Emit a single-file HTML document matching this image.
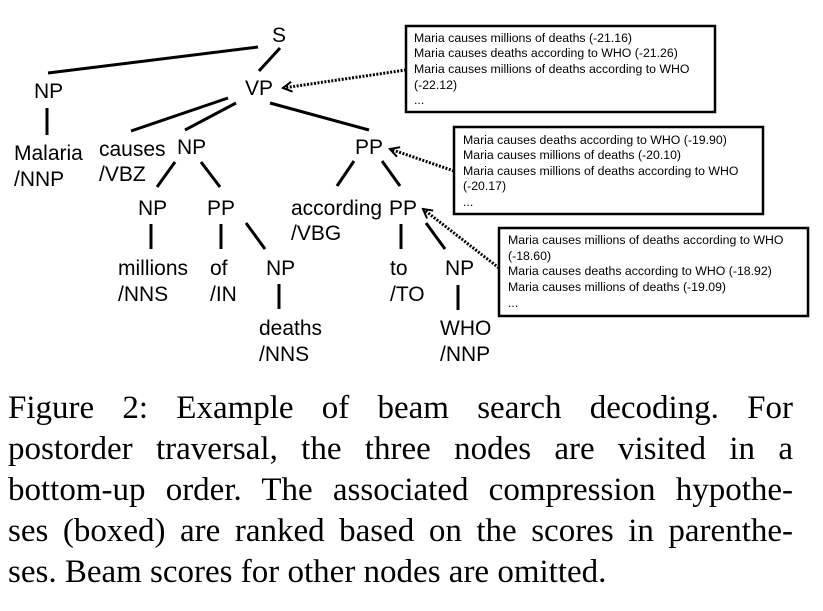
<!DOCTYPE html>
<html><head><meta charset="utf-8"><style>
body{margin:0;background:#fff;width:823px;height:611px;overflow:hidden;position:relative}
svg{position:absolute;left:0;top:0}
.t{font-family:"Liberation Sans",sans-serif;font-size:21px;fill:#000}
.b{font-family:"Liberation Sans",sans-serif;font-size:12.3px;fill:#000}
.cap{position:absolute;left:8px;width:785px;font-family:"Liberation Serif",serif;font-size:33px;line-height:41px;color:#000}
.j{text-align:justify;text-align-last:justify;height:41px;white-space:nowrap}
</style></head><body>
<svg width="823" height="380">
<defs><marker id="ah" markerUnits="userSpaceOnUse" markerWidth="12" markerHeight="12" refX="10" refY="6" orient="auto"><path d="M1,1 L10,6 L1,11" fill="none" stroke="#000" stroke-width="2"/></marker></defs>
<g stroke="#000" stroke-width="3">
<line x1="258" y1="47" x2="48" y2="73"/><line x1="280" y1="48" x2="259" y2="71"/>
<line x1="47" y1="108" x2="47" y2="135"/>
<line x1="228" y1="98" x2="131" y2="131"/><line x1="236" y1="103" x2="185" y2="130"/><line x1="270" y1="103" x2="369" y2="130"/>
<line x1="175" y1="162" x2="157" y2="187"/><line x1="201" y1="162" x2="220" y2="187"/>
<line x1="354" y1="161" x2="337" y2="186"/><line x1="382" y1="161" x2="400" y2="186"/>
<line x1="151" y1="224" x2="151" y2="249"/><line x1="221" y1="224" x2="221" y2="249"/><line x1="246" y1="223" x2="265" y2="249"/>
<line x1="279" y1="284" x2="279" y2="309"/>
<line x1="401" y1="224" x2="401" y2="249"/><line x1="426" y1="223" x2="445" y2="249"/><line x1="458" y1="285" x2="458" y2="310"/>
</g>
<g class="t">
<text x="272" y="42">S</text>
<text x="34" y="98">NP</text><text x="245" y="95">VP</text>
<text x="14" y="160">Malaria</text><text x="14" y="186">/NNP</text>
<text x="99" y="156">causes</text><text x="99" y="181">/VBZ</text>
<text x="177" y="154">NP</text><text x="355" y="154">PP</text>
<text x="138" y="215">NP</text><text x="207" y="215">PP</text>
<text x="291" y="215">according</text><text x="291" y="240">/VBG</text><text x="389" y="215">PP</text>
<text x="118" y="275">millions</text><text x="118" y="301">/NNS</text>
<text x="210" y="275">of</text><text x="210" y="301">/IN</text>
<text x="266" y="275">NP</text>
<text x="259" y="335">deaths</text><text x="259" y="361">/NNS</text>
<text x="390" y="275">to</text><text x="390" y="301">/TO</text>
<text x="445" y="275">NP</text>
<text x="440" y="335">WHO</text><text x="440" y="361">/NNP</text>
</g>
<g stroke="#000" stroke-width="3" stroke-dasharray="2,1.5" fill="none">
<line x1="406" y1="70" x2="283" y2="88" marker-end="url(#ah)"/>
<line x1="454" y1="171" x2="390" y2="149" marker-end="url(#ah)"/>
<line x1="499" y1="268" x2="423" y2="209" marker-end="url(#ah)"/>
</g>
<g fill="none" stroke="#000" stroke-width="2.5">
<rect x="406" y="26" width="309" height="86"/><rect x="454" y="127" width="309" height="87"/><rect x="499" y="228" width="309" height="88"/>
</g>
<g class="b">
<text x="414" y="42">Maria causes millions of deaths (-21.16)</text>
<text x="414" y="57">Maria causes deaths according to WHO (-21.26)</text>
<text x="414" y="73">Maria causes millions of deaths according to WHO</text>
<text x="414" y="89">(-22.12)</text><text x="414" y="104">...</text>
</g>
<g class="b">
<text x="463" y="144">Maria causes deaths according to WHO (-19.90)</text>
<text x="463" y="159">Maria causes millions of deaths (-20.10)</text>
<text x="463" y="175">Maria causes millions of deaths according to WHO</text>
<text x="463" y="190">(-20.17)</text><text x="463" y="206">...</text>
</g>
<g class="b">
<text x="508" y="244">Maria causes millions of deaths according to WHO</text>
<text x="508" y="260">(-18.60)</text>
<text x="508" y="275">Maria causes deaths  according to WHO (-18.92)</text>
<text x="508" y="291">Maria causes millions of deaths (-19.09)</text>
<text x="508" y="307">...</text>
</g>
</svg>
<div class="cap" style="top:388px">
<div class="j">Figure 2:  Example of beam search decoding.  For</div>
<div class="j">postorder traversal, the three nodes are visited in a</div>
<div class="j">bottom-up order. The associated compression hypothe-</div>
<div class="j">ses (boxed) are ranked based on the scores in parenthe-</div>
<div style="height:41px;white-space:nowrap">ses. Beam scores for other nodes are omitted.</div>
</div>
</body></html>
